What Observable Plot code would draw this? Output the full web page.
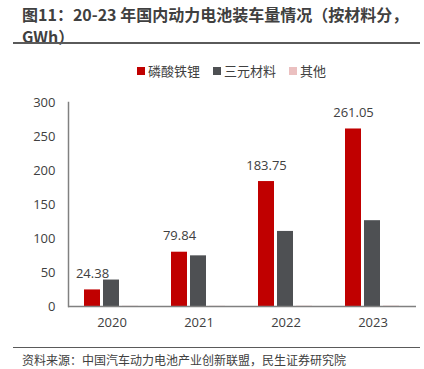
<!DOCTYPE html>
<html><head><meta charset="utf-8">
<script src="https://cdn.jsdelivr.net/npm/d3@7"></script>
<script src="https://cdn.jsdelivr.net/npm/@observablehq/plot@0.6"></script>
<style>
body{margin:0;background:#fff;font-family:"Noto Sans CJK SC",sans-serif;color:#404040;width:424px;height:369px;overflow:hidden;position:relative}
#title{position:absolute;left:22px;top:3px;font-size:16px;font-weight:bold;line-height:22px;color:#404040;white-space:nowrap}
#rule1{position:absolute;left:13px;top:42px;width:407px;height:2px;background:#5a5a5a}
#legend{position:absolute;top:62px;left:137px;display:flex;align-items:center;font-size:13px;line-height:18px;color:#404040}
#legend .it{display:flex;align-items:center;margin-right:13px}
#legend .sw{width:8px;height:8px;margin-right:3px}
#chart{position:absolute;left:0;top:90px}
#rule2{position:absolute;left:13px;top:347px;width:407px;height:1px;background:#5a5a5a}
#src{position:absolute;left:22px;top:351px;font-size:12px;line-height:17px;color:#404040;white-space:nowrap}
</style></head>
<body>
<div id="title">图11：20-23 年国内动力电池装车量情况（按材料分，<br>GWh）</div>
<div id="rule1"></div>
<div id="legend"></div>
<div id="chart"></div>
<div id="rule2"></div>
<div id="src">资料来源：中国汽车动力电池产业创新联盟，民生证券研究院</div>
<script>
const years = ["2020","2021","2022","2023"];
const series = ["磷酸铁锂","三元材料","其他"];
const lfp = [24.38, 79.84, 183.75, 261.05];
const ncm = [38.9, 74.5, 110.4, 126.2];
const other = [0.3, 0.3, 0.4, 0.5];
const colors = ["#c00000","#4e5053","#ebc0c0"];
const yTicks = [0,50,100,150,200,250,300];

const vals = [lfp, ncm, other];
const data = years.flatMap((y,i)=>series.map((s,j)=>({year:y, series:s, value:vals[j][i]})));

const leg = document.getElementById("legend");
series.forEach((s,i)=>{
  const it = document.createElement("div"); it.className="it";
  const sw = document.createElement("div"); sw.className="sw"; sw.style.background=colors[i];
  const t = document.createElement("span"); t.textContent=s;
  it.append(sw,t); leg.append(it);
});

const chart = Plot.plot({
  width:424, height:250, marginLeft:68, marginRight:8, marginTop:12, marginBottom:34,
  style:{fontFamily:"'Open Sans', 'Noto Sans CJK SC', sans-serif", fontSize:"13px", color:"#404040", background:"transparent"},
  fx:{domain:years, padding:0, label:null},
  x:{domain:series, paddingInner:0.15, paddingOuter:0.8, axis:null},
  y:{domain:[0,300], label:null},
  color:{domain:series, range:colors},
  marks:[
    Plot.barY(data,{fx:"year", x:"series", y:"value", fill:"series"}),
    Plot.ruleY([0],{stroke:"#808080", strokeWidth:1.5}),
    Plot.frame({anchor:"left", facetAnchor:"left", stroke:"#808080", strokeWidth:1.5}),
    Plot.text(data.filter(d=>d.series===series[0]),{fx:"year", x:"series", y:"value", text:d=>d.value.toFixed(2), dy:-16, fill:"#404040", fontSize:13}),
    Plot.axisY({ticks:yTicks, tickSize:0, tickPadding:13, fontSize:13, label:null, tickFormat:d=>String(d)}),
    Plot.axisFx({anchor:"bottom", tickSize:0, tickPadding:11, fontSize:13, label:null})
  ]
});
document.getElementById("chart").append(chart);
</script>
</body></html>
